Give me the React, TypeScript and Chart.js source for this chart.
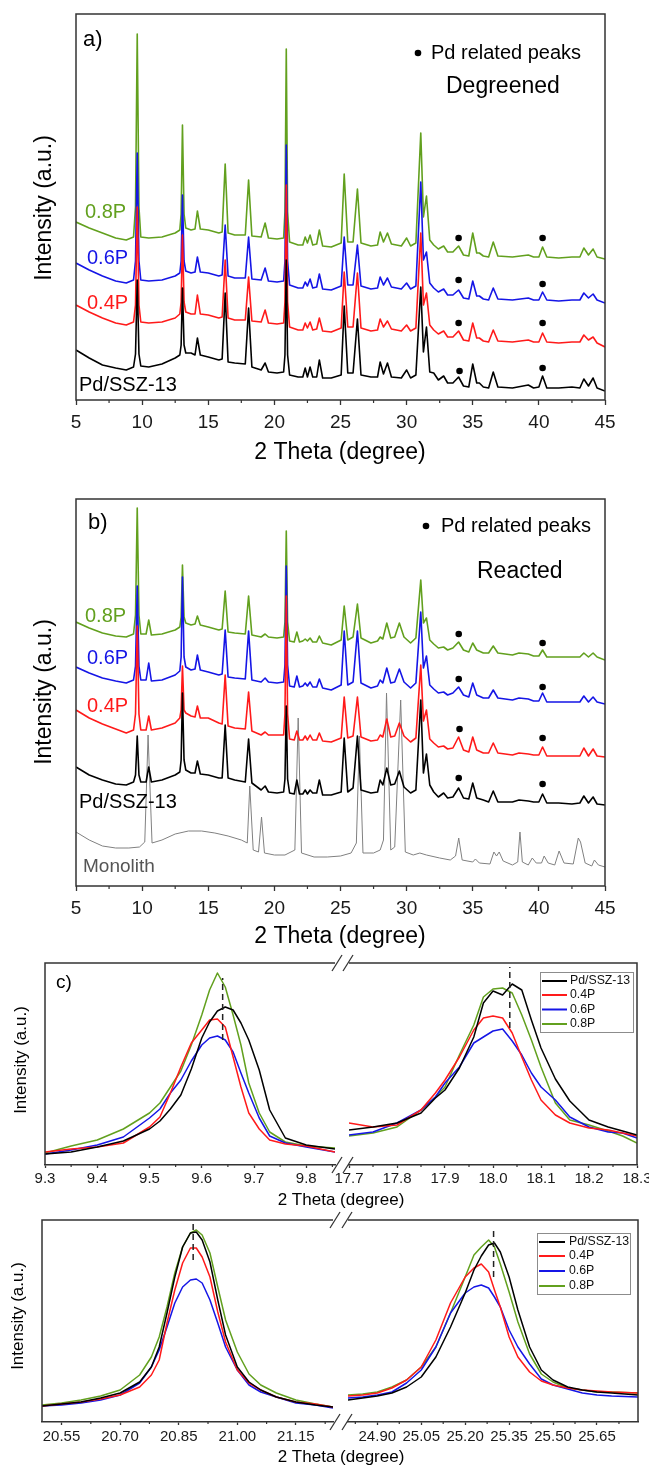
import React, { useEffect, useRef } from 'react';
import { Chart, registerables } from 'chart.js';

Chart.register(...registerables);

const FONT = '"Liberation Sans", Arial, Helvetica, sans-serif';
const FRAME = '#333333';
const TICK_COLOR = '#1a1a1a';

const seriesNames = ['Pd/SSZ-13', '0.4P', '0.6P', '0.8P'];
const seriesColors = ['#000000', '#ff1a1a', '#1515e6', '#62a01e'];
const monoColor = '#808080';

// ---------- panel a (Degreened) ----------
const xA = [5, 6, 7, 8, 8.8, 9.35, 9.5, 9.63, 9.76, 9.9, 10.5, 11.5,
  12.5, 12.85, 12.95, 13.05, 13.17, 13.3, 13.7, 14.0, 14.18, 14.4, 15.0, 15.8,
  16.05, 16.28, 16.5, 17.0, 17.8, 18.05, 18.3, 19.0, 19.3, 19.55,
  20.2, 20.7, 20.8, 20.9, 21.0, 21.15, 21.8, 22.15, 22.33, 22.5, 22.7, 22.9,
  23.2, 23.4, 23.65, 24.3, 25.05, 25.28, 25.55, 25.95, 26.28, 26.55,
  27.3, 27.8, 28.0, 28.25, 28.55, 28.85, 29.6, 30.0, 30.3, 30.7,
  31.07, 31.27, 31.5, 31.75, 32.05, 32.4, 32.8, 33.1, 33.5, 33.93,
  34.3, 34.7, 35.0, 35.3, 35.5, 35.8, 36.2, 36.55, 36.9, 38.0,
  39.2, 39.6, 40.0, 40.28, 40.6, 41.5, 42.5, 43.1, 43.4, 43.75,
  44.1, 44.4, 45];
const aGreen = [178, 172, 167, 162, 160, 163, 193, 366, 193, 163, 162, 163,
  167, 170, 186, 275, 186, 172, 170, 171, 189, 171, 170, 167,
  168, 236, 167, 165, 165, 220, 164, 163, 177, 162,
  161, 162, 188, 351, 188, 158, 155, 155, 163, 157, 165, 155,
  156, 170, 154, 153, 157, 226, 158, 158, 211, 157,
  154, 155, 168, 158, 167, 156, 154, 162, 154, 157,
  267, 183, 204, 160, 155, 151, 154, 148, 148, 154,
  145, 144, 167, 147, 147, 144, 143, 158, 144, 143,
  145, 143, 143, 153, 143, 142, 143, 143, 152, 145,
  151, 143, 141];
const aBlue = [137, 130, 124, 119, 117, 120, 139, 247, 139, 120, 119, 120,
  124, 127, 139, 205, 139, 129, 127, 128, 143, 128, 127, 124,
  125, 175, 124, 122, 122, 163, 121, 120, 132, 119,
  118, 119, 139, 255, 139, 115, 112, 112, 118, 114, 121, 112,
  113, 126, 111, 110, 114, 163, 115, 115, 155, 114,
  111, 112, 123, 115, 122, 113, 111, 117, 111, 114,
  218, 140, 148, 117, 112, 108, 111, 105, 105, 110,
  102, 101, 119, 104, 104, 101, 100, 112, 101, 100,
  102, 100, 100, 108, 100, 99, 100, 100, 107, 102,
  106, 100, 97];
const aRed = [95, 88, 82, 77, 75, 78, 95, 193, 95, 78, 77, 78,
  82, 86, 98, 165, 98, 88, 86, 86, 105, 86, 85, 82,
  83, 140, 82, 80, 80, 123, 79, 78, 90, 77,
  76, 77, 98, 215, 98, 73, 70, 70, 77, 72, 78, 70,
  71, 82, 69, 68, 72, 128, 73, 73, 127, 72,
  69, 70, 81, 73, 79, 71, 69, 75, 69, 72,
  167, 95, 107, 75, 70, 66, 69, 63, 63, 69,
  60, 59, 77, 62, 62, 59, 58, 70, 59, 58,
  60, 58, 58, 67, 58, 57, 58, 58, 65, 60,
  63, 57, 53];
const aBlack = [50, 42, 35, 32, 30, 33, 46, 120, 46, 34, 33, 36,
  42, 45, 55, 112, 55, 47, 47, 45, 62, 45, 43, 40,
  41, 107, 38, 37, 36, 92, 33, 30, 37, 28,
  27, 28, 45, 140, 45, 25, 23, 23, 32, 23, 33, 23,
  23, 40, 22, 22, 25, 94, 27, 27, 81, 25,
  23, 23, 38, 26, 37, 23, 22, 30, 22, 25,
  113, 48, 73, 28, 27, 20, 24, 17, 17, 23,
  14, 13, 36, 17, 17, 13, 12, 28, 13, 12,
  15, 12, 13, 24, 12, 12, 13, 12, 21, 14,
  22, 12, 9];
const dotsAX = [33.93, 40.28, 33.93, 40.28, 33.93, 40.28, 34.0, 40.28];
const dotsAY = [162, 162, 120, 116, 77, 77, 29, 32];

// ---------- panel b (Reacted) ----------
const xB = [5, 6, 7, 8, 8.8, 9.35, 9.5, 9.63, 9.76, 9.9, 10.3, 10.5,
  10.7, 11.5, 12.5, 12.85, 12.95, 13.05, 13.17, 13.3, 13.7, 14.0, 14.18, 14.4,
  15.0, 15.8, 16.05, 16.28, 16.5, 17.0, 17.8, 18.05, 18.3, 19.0,
  19.3, 19.55, 20.2, 20.7, 20.8, 20.9, 21.0, 21.15, 21.5, 21.7, 21.9, 22.15,
  22.33, 22.5, 22.7, 22.9, 23.2, 23.4, 23.65, 24.3, 25.05, 25.28,
  25.55, 25.95, 26.28, 26.55, 27.3, 27.8, 28.0, 28.2, 28.5, 28.8,
  29.1, 29.45, 29.8, 30.3, 30.7, 31.07, 31.27, 31.5, 31.75, 32.05,
  32.4, 32.8, 33.1, 33.5, 33.93, 34.3, 34.7, 35.0, 35.3, 35.8,
  36.2, 36.55, 36.9, 38.0, 38.5, 39.2, 39.6, 40.0, 40.28, 40.6,
  41.5, 42.5, 43.1, 43.4, 43.75, 44.1, 44.4, 45];
const bGreen = [264, 258, 253, 250, 249, 252, 271, 378, 271, 252, 252, 266,
  251, 252, 256, 259, 269, 321, 269, 263, 261, 262, 270, 261,
  259, 256, 257, 295, 254, 253, 252, 290, 251, 249,
  252, 249, 248, 249, 264, 355, 264, 245, 244, 254, 244, 245,
  247, 245, 248, 244, 244, 250, 243, 241, 246, 280,
  246, 249, 282, 248, 243, 245, 249, 247, 263, 248,
  249, 263, 249, 243, 248, 306, 263, 268, 246, 242,
  238, 239, 236, 238, 244, 236, 234, 243, 236, 233,
  233, 240, 233, 231, 233, 232, 230, 230, 236, 229,
  229, 229, 229, 233, 229, 233, 229, 226];
const bBlue = [219, 213, 208, 205, 203, 206, 220, 300, 220, 206, 206, 223,
  205, 206, 211, 215, 229, 309, 229, 219, 216, 217, 231, 216,
  214, 211, 212, 256, 209, 208, 207, 255, 206, 204,
  208, 204, 203, 204, 221, 320, 221, 200, 199, 210, 199, 200,
  203, 200, 204, 199, 199, 207, 198, 196, 201, 255,
  201, 204, 255, 203, 198, 200, 206, 203, 218, 203,
  204, 217, 204, 198, 203, 274, 218, 230, 201, 197,
  193, 194, 191, 193, 199, 191, 189, 203, 191, 188,
  188, 196, 188, 186, 188, 187, 185, 185, 193, 184,
  184, 184, 184, 190, 184, 189, 184, 182];
const bRed = [176, 168, 162, 157, 153, 156, 172, 260, 172, 156, 156, 170,
  156, 158, 163, 168, 176, 220, 176, 173, 170, 169, 180, 168,
  168, 163, 162, 211, 160, 158, 157, 194, 155, 151,
  154, 151, 151, 151, 172, 290, 172, 147, 146, 155, 146, 146,
  150, 146, 151, 146, 146, 153, 145, 144, 148, 189,
  148, 150, 189, 149, 145, 146, 151, 149, 167, 149,
  150, 163, 150, 144, 148, 221, 165, 176, 147, 143,
  139, 140, 137, 138, 149, 136, 134, 149, 136, 133,
  133, 143, 133, 131, 133, 132, 131, 131, 139, 130,
  130, 130, 130, 138, 130, 137, 130, 129];
const bBlack = [119, 111, 106, 102, 101, 104, 111, 150, 111, 104, 104, 119,
  104, 106, 111, 114, 126, 193, 126, 116, 113, 113, 125, 112,
  111, 108, 108, 161, 108, 106, 104, 147, 103, 96,
  100, 94, 93, 94, 107, 180, 107, 93, 92, 106, 92, 92,
  96, 92, 96, 93, 93, 106, 91, 91, 94, 148,
  94, 98, 150, 96, 93, 94, 106, 101, 118, 101,
  102, 115, 99, 93, 96, 186, 113, 132, 101, 94,
  89, 93, 88, 89, 98, 88, 87, 103, 88, 86,
  84, 95, 84, 84, 86, 85, 84, 84, 92, 83,
  83, 82, 83, 90, 83, 89, 82, 81];
const xMono = [5, 6, 7, 8, 9, 9.8, 10.2, 10.45, 10.75, 11.5,
  12.5, 13.5, 14.5, 15.5, 16.5, 17.5, 17.95, 18.14, 18.4, 18.8,
  19.03, 19.25, 20.0, 20.8, 21.55, 21.8, 22.05, 23.0, 24.0, 25.0,
  25.8, 26.2, 26.43, 26.7, 27.5, 28.0, 28.25, 28.48, 28.8, 29.1,
  29.55, 29.9, 30.5, 31.0, 31.5, 32.5, 33.3, 33.7, 33.94, 34.2,
  35.0, 35.2, 35.5, 36.3, 36.6, 36.8, 37.0, 37.3, 38.0, 38.4,
  38.57, 38.75, 39.2, 39.5, 39.8, 40.2, 40.4, 40.7, 41.2, 41.53,
  41.9, 42.6, 42.98, 43.15, 43.5, 44.0, 44.2, 44.5, 45];
const yMono = [54, 46, 40, 38, 38, 39, 44, 151, 43, 46,
  52, 55, 55, 53, 50, 46, 43, 100, 36, 34,
  69, 33, 31, 31, 36, 168, 33, 29, 29, 30,
  33, 43, 150, 33, 33, 36, 46, 193, 36, 39,
  186, 34, 31, 33, 31, 28, 26, 30, 48, 26,
  24, 27, 23, 22, 34, 30, 34, 25, 21, 24,
  54, 24, 21, 28, 23, 23, 30, 23, 21, 35,
  23, 22, 48, 44, 23, 20, 26, 21, 19];
const dotsBX = [33.94, 40.28, 33.94, 40.28, 34.0, 40.28, 33.94, 40.28];
const dotsBY = [252, 243, 207, 199, 157, 148, 108, 102];

const ticksAB = [5, 10, 15, 20, 25, 30, 35, 40, 45];
const minorAB = [7.5, 12.5, 17.5, 22.5, 27.5, 32.5, 37.5, 42.5];

// ---------- panel c, top row ----------
const xC1L = [9.3, 9.35, 9.4, 9.45, 9.5, 9.52, 9.54, 9.56, 9.58, 9.6, 9.615, 9.63, 9.645, 9.66, 9.675, 9.69, 9.71, 9.73, 9.76, 9.8, 9.855];
const c1LBlack = [11, 13, 18, 24, 36, 44, 56, 70, 96, 127, 143, 154, 158, 155, 142, 125, 95, 55, 27, 20, 16];
const c1LRed = [13, 16, 18, 22, 38, 48, 72, 98, 122, 135, 145, 146, 138, 108, 78, 52, 36, 25, 21, 19, 13];
const c1LBlue = [11, 15, 20, 28, 47, 56, 72, 85, 104, 120, 127, 129, 125, 113, 92, 72, 47, 29, 22, 18, 13];
const c1LGreen = [12, 19, 25, 36, 52, 62, 78, 94, 120, 150, 175, 192, 178, 150, 120, 82, 52, 33, 23, 19, 17];
const xC1R = [17.7, 17.75, 17.8, 17.85, 17.88, 17.9, 17.93, 17.96, 17.98, 18.0, 18.02, 18.04, 18.06, 18.08, 18.1, 18.13, 18.16, 18.2, 18.24, 18.27, 18.3];
const c1RBlack = [35, 38, 42, 52, 67, 75, 97, 128, 162, 174, 170, 181, 175, 145, 117, 86, 64, 45, 38, 34, 30];
const c1RRed = [42, 38, 40, 55, 72, 85, 108, 135, 147, 149, 147, 132, 108, 85, 65, 50, 42, 37, 35, 32, 29];
const c1RBlue = [30, 33, 42, 55, 68, 82, 98, 122, 128, 134, 136, 124, 110, 92, 78, 65, 48, 38, 33, 32, 27];
const c1RGreen = [29, 32, 38, 55, 68, 78, 110, 140, 168, 176, 177, 172, 150, 125, 98, 62, 45, 40, 34, 29, 22];
const ticksC1L = [9.3, 9.4, 9.5, 9.6, 9.7, 9.8];
const ticksC1R = [17.7, 17.8, 17.9, 18.0, 18.1, 18.2, 18.3];
const minorC1L = [9.35, 9.45, 9.55, 9.65, 9.75, 9.85];
const minorC1R = [17.75, 17.85, 17.95, 18.05, 18.15, 18.25];
const markC1X = [9.64, 18.035];
const markC1Axis = ['xL', 'xR'];
const markC1Lo = [125, 137];
const markC1Hi = [187, 198];

// ---------- panel c, bottom row ----------
const xC2L = [20.5, 20.55, 20.6, 20.65, 20.7, 20.75, 20.78, 20.8, 20.82, 20.84, 20.86, 20.88, 20.895, 20.91, 20.93, 20.95, 20.97, 21.0, 21.03, 21.06, 21.1, 21.15, 21.2, 21.245];
const c2LBlack = [16, 18, 20, 24, 29, 40, 55, 75, 109, 145, 175, 189, 190, 182, 160, 122, 87, 55, 40, 32, 25, 20, 17, 15];
const c2LRed = [16, 18, 20, 23, 27, 35, 47, 62, 99, 132, 159, 174, 174, 165, 145, 110, 80, 52, 39, 32, 25, 20, 18, 15];
const c2LBlue = [16, 17, 19, 22, 27, 39, 55, 72, 95, 119, 135, 142, 143, 139, 122, 99, 75, 52, 37, 30, 25, 19, 17, 14];
const c2LGreen = [17, 19, 22, 26, 32, 47, 65, 85, 115, 149, 175, 189, 192, 187, 169, 135, 102, 70, 48, 37, 29, 22, 18, 15];
const xC2R = [24.8, 24.85, 24.9, 24.95, 25.0, 25.05, 25.1, 25.15, 25.2, 25.23, 25.255, 25.28, 25.3, 25.32, 25.35, 25.38, 25.42, 25.46, 25.5, 25.55, 25.6, 25.65, 25.7, 25.79];
const c2RBlack = [22, 24, 26, 29, 35, 45, 65, 95, 129, 152, 166, 177, 179, 170, 145, 112, 75, 52, 42, 35, 32, 30, 29, 27];
const c2RRed = [26, 27, 29, 34, 42, 55, 82, 119, 145, 154, 158, 150, 132, 115, 85, 65, 50, 41, 37, 34, 32, 31, 30, 29];
const c2RBlue = [24, 25, 27, 30, 39, 52, 75, 109, 129, 135, 137, 134, 125, 115, 92, 75, 58, 43, 37, 33, 29, 27, 26, 25];
const c2RGreen = [27, 28, 30, 35, 42, 55, 75, 109, 145, 167, 175, 182, 175, 158, 130, 100, 68, 48, 40, 34, 32, 30, 30, 29];
const ticksC2L = [20.55, 20.7, 20.85, 21.0, 21.15];
const ticksC2R = [24.9, 25.05, 25.2, 25.35, 25.5, 25.65];
const minorC2L = [20.625, 20.775, 20.925, 21.075, 21.225];
const minorC2R = [24.825, 24.975, 25.125, 25.275, 25.425, 25.575, 25.725];
const markC2X = [20.887, 25.297];
const markC2Axis = ['xL', 'xR'];
const markC2Lo = [162, 145];
const markC2Hi = [199, 193];

// ---------- helpers ----------
type Txt = { t: string; x: number; y: number; size: number; color?: string; align?: CanvasTextAlign; rot?: boolean; dot?: boolean };

function overlay(items: Txt[]) {
  return {
    id: 'overlayText',
    afterDraw(chart: any) {
      const ctx = chart.ctx as CanvasRenderingContext2D;
      for (const it of items) {
        ctx.save();
        ctx.translate(it.x, it.y);
        if (it.rot) ctx.rotate(-Math.PI / 2);
        ctx.fillStyle = it.color || '#000';
        if (it.dot) {
          ctx.beginPath();
          ctx.arc(0, 0, it.size, 0, Math.PI * 2);
          ctx.fill();
        } else {
          ctx.font = `${it.size}px ${FONT}`;
          ctx.textAlign = it.align || 'left';
          ctx.textBaseline = 'middle';
          ctx.fillText(it.t, 0, 0);
        }
        ctx.restore();
      }
    },
  };
}

function minor(list: { id: string; values: number[] }[], len: number) {
  return {
    id: 'minorTicks',
    afterDraw(chart: any) {
      const ctx = chart.ctx as CanvasRenderingContext2D;
      ctx.save();
      ctx.strokeStyle = FRAME;
      ctx.lineWidth = 1.2;
      for (const m of list) {
        const s = chart.scales[m.id];
        if (!s) continue;
        for (const v of m.values) {
          const px = s.getPixelForValue(v);
          ctx.beginPath();
          ctx.moveTo(px, s.top);
          ctx.lineTo(px, s.top + len);
          ctx.stroke();
        }
      }
      ctx.restore();
    },
  };
}

const boxFrame = {
  id: 'boxFrame',
  afterDraw(chart: any) {
    const { left, top, right, bottom } = chart.chartArea;
    const ctx = chart.ctx as CanvasRenderingContext2D;
    ctx.save();
    ctx.strokeStyle = FRAME;
    ctx.lineWidth = 1.5;
    ctx.strokeRect(left, top, right - left, bottom - top);
    ctx.restore();
  },
};

const brokenFrame = {
  id: 'brokenFrame',
  afterDraw(chart: any) {
    const { left, top, right, bottom } = chart.chartArea;
    const L = chart.scales.xL;
    const R = chart.scales.xR;
    const ctx = chart.ctx as CanvasRenderingContext2D;
    ctx.save();
    ctx.strokeStyle = FRAME;
    ctx.lineWidth = 1.5;
    ctx.beginPath();
    ctx.moveTo(left, bottom);
    ctx.lineTo(left, top);
    ctx.lineTo(L.right, top);
    ctx.moveTo(R.left, top);
    ctx.lineTo(right, top);
    ctx.lineTo(right, bottom);
    ctx.stroke();
    ctx.lineWidth = 1.3;
    for (const y of [top, bottom]) {
      for (const cx of [L.right + 2, R.left - 1]) {
        ctx.beginPath();
        ctx.moveTo(cx - 5, y + 8);
        ctx.lineTo(cx + 5, y - 8);
        ctx.stroke();
      }
    }
    ctx.restore();
  },
};

function legendBox(b: { x0: number; y0: number; x1: number; y1: number; rows: number[]; lx0: number; lx1: number; tx: number; size: number }) {
  return {
    id: 'cLegend',
    afterDraw(chart: any) {
      const ctx = chart.ctx as CanvasRenderingContext2D;
      ctx.save();
      ctx.fillStyle = '#ffffff';
      ctx.fillRect(b.x0, b.y0, b.x1 - b.x0, b.y1 - b.y0);
      ctx.strokeStyle = '#8c8c8c';
      ctx.lineWidth = 1;
      ctx.strokeRect(b.x0 + 0.5, b.y0 + 0.5, b.x1 - b.x0, b.y1 - b.y0);
      seriesNames.forEach((name, i) => {
        ctx.strokeStyle = seriesColors[i];
        ctx.lineWidth = 2;
        ctx.beginPath();
        ctx.moveTo(b.lx0, b.rows[i]);
        ctx.lineTo(b.lx1, b.rows[i]);
        ctx.stroke();
        ctx.fillStyle = '#111';
        ctx.font = `${b.size}px ${FONT}`;
        ctx.textAlign = 'left';
        ctx.textBaseline = 'middle';
        ctx.fillText(name, b.tx, b.rows[i]);
      });
      ctx.restore();
    },
  };
}

function lineDs(xs: number[], ys: number[], color: string, width: number, order: number, xAxisID = 'x', dash: number[] = []) {
  return {
    type: 'line',
    data: xs.map((x, i) => ({ x, y: ys[i] })),
    borderColor: color,
    backgroundColor: color,
    borderWidth: width,
    pointRadius: 0,
    tension: 0,
    fill: false,
    order,
    xAxisID,
    yAxisID: 'y',
    borderJoinStyle: 'round',
    borderDash: dash,
  };
}

function dotDs(xs: number[], ys: number[]) {
  return {
    type: 'scatter',
    data: xs.map((x, i) => ({ x, y: ys[i] })),
    pointRadius: 3.3,
    pointBackgroundColor: '#000',
    pointBorderColor: '#000',
    pointBorderWidth: 0,
    showLine: false,
    order: 0,
    xAxisID: 'x',
    yAxisID: 'y',
  };
}

function xAxis(p: { min: number; max: number; ticks: number[]; dec: number; size: number; pad: number; tl: number; h: number; stack?: string; weight?: number; border?: boolean }) {
  return {
    type: 'linear',
    position: 'bottom',
    min: p.min,
    max: p.max,
    ...(p.stack ? { stack: p.stack, stackWeight: p.weight } : {}),
    afterBuildTicks: (s: any) => { s.ticks = p.ticks.map((v) => ({ value: v })); },
    afterFit: (s: any) => { s.height = p.h; s.paddingLeft = 0; s.paddingRight = 0; },
    ticks: {
      autoSkip: false, maxRotation: 0, minRotation: 0, padding: p.pad, color: TICK_COLOR,
      font: { family: FONT, size: p.size },
      callback: (v: any) => Number(v).toFixed(p.dec),
    },
    grid: { drawOnChartArea: false, drawTicks: true, tickLength: p.tl, tickColor: FRAME, tickWidth: 1.3 },
    border: { display: !!p.border, color: FRAME, width: 1.5 },
  };
}

function gapAxis(h: number, w: number) {
  return {
    type: 'linear', position: 'bottom', stack: 'x', stackWeight: w, min: 0, max: 1,
    ticks: { display: false }, grid: { display: false }, border: { display: false },
    afterFit: (s: any) => { s.height = h; s.paddingLeft = 0; s.paddingRight = 0; },
  };
}

const baseOpts = { responsive: false, animation: false, events: [] as string[] };
const noPlugins = { legend: { display: false }, tooltip: { enabled: false } };
const LW = 1.6;

// ---------- configs ----------
const textsA: Txt[] = [
  { t: 'a)', x: 83, y: 40, size: 22 },
  { t: '', x: 418, y: 53, size: 3.3, dot: true },
  { t: 'Pd related peaks', x: 431, y: 53, size: 20 },
  { t: 'Degreened', x: 446, y: 87, size: 23 },
  { t: seriesNames[3], x: 85, y: 212, size: 20, color: seriesColors[3] },
  { t: seriesNames[2], x: 87, y: 258, size: 20, color: seriesColors[2] },
  { t: seriesNames[1], x: 87, y: 303, size: 20, color: seriesColors[1] },
  { t: seriesNames[0], x: 79, y: 385, size: 20 },
  { t: '2 Theta (degree)', x: 340, y: 453, size: 23, align: 'center' },
  { t: 'Intensity (a.u.)', x: 45, y: 208, size: 23, align: 'center', rot: true },
];

function buildA() {
  return {
    type: 'line',
    data: {
      datasets: [
        dotDs(dotsAX, dotsAY),
        lineDs(xA, aBlack, seriesColors[0], LW, 1),
        lineDs(xA, aRed, seriesColors[1], LW, 2),
        lineDs(xA, aBlue, seriesColors[2], LW, 3),
        lineDs(xA, aGreen, seriesColors[3], LW, 4),
      ],
    },
    options: {
      ...baseOpts,
      layout: { padding: { left: 76, right: 44, top: 14, bottom: 0 } },
      plugins: noPlugins,
      scales: {
        x: xAxis({ min: 5, max: 45, ticks: ticksAB, dec: 0, size: 19, pad: 6, tl: 5, h: 80 }),
        y: { type: 'linear', display: false, min: 0, max: 386 },
      },
    },
    plugins: [boxFrame, minor([{ id: 'x', values: minorAB }], 3), overlay(textsA)],
  };
}

const textsB: Txt[] = [
  { t: 'b)', x: 88, y: 43, size: 22 },
  { t: '', x: 426, y: 46, size: 3.3, dot: true },
  { t: 'Pd related peaks', x: 441, y: 46, size: 20 },
  { t: 'Reacted', x: 477, y: 92, size: 23 },
  { t: seriesNames[3], x: 85, y: 136, size: 20, color: seriesColors[3] },
  { t: seriesNames[2], x: 87, y: 178, size: 20, color: seriesColors[2] },
  { t: seriesNames[1], x: 87, y: 226, size: 20, color: seriesColors[1] },
  { t: seriesNames[0], x: 79, y: 322, size: 20 },
  { t: 'Monolith', x: 83, y: 387, size: 19, color: '#555555' },
  { t: '2 Theta (degree)', x: 340, y: 457, size: 23, align: 'center' },
  { t: 'Intensity (a.u.)', x: 45, y: 212, size: 23, align: 'center', rot: true },
];

function buildB() {
  return {
    type: 'line',
    data: {
      datasets: [
        dotDs(dotsBX, dotsBY),
        lineDs(xB, bBlack, seriesColors[0], LW, 1),
        lineDs(xB, bRed, seriesColors[1], LW, 2),
        lineDs(xB, bBlue, seriesColors[2], LW, 3),
        lineDs(xB, bGreen, seriesColors[3], LW, 4),
        lineDs(xMono, yMono, monoColor, 1, 5),
      ],
    },
    options: {
      ...baseOpts,
      layout: { padding: { left: 76, right: 44, top: 19, bottom: 0 } },
      plugins: noPlugins,
      scales: {
        x: xAxis({ min: 5, max: 45, ticks: ticksAB, dec: 0, size: 19, pad: 6, tl: 5, h: 74 }),
        y: { type: 'linear', display: false, min: 0, max: 387 },
      },
    },
    plugins: [boxFrame, minor([{ id: 'x', values: minorAB }], 3), overlay(textsB)],
  };
}

const textsC1: Txt[] = [
  { t: 'c)', x: 56, y: 33, size: 19 },
  { t: '2 Theta (degree)', x: 341, y: 250, size: 17, align: 'center' },
  { t: 'Intensity (a.u.)', x: 21, y: 110, size: 17, align: 'center', rot: true },
];

function buildC1() {
  const ds: any[] = [];
  [c1LBlack, c1LRed, c1LBlue, c1LGreen].forEach((ys, i) => ds.push(lineDs(xC1L, ys, seriesColors[i], 1.5, i + 1, 'xL')));
  [c1RBlack, c1RRed, c1RBlue, c1RGreen].forEach((ys, i) => ds.push(lineDs(xC1R, ys, seriesColors[i], 1.5, i + 1, 'xR')));
  markC1X.forEach((x, j) => ds.push(lineDs([x, x], [markC1Lo[j], markC1Hi[j]], '#222222', 1.5, 0, markC1Axis[j], [6, 4])));
  return {
    type: 'line',
    data: { datasets: ds },
    options: {
      ...baseOpts,
      layout: { padding: { left: 45, right: 12, top: 13, bottom: 0 } },
      plugins: noPlugins,
      scales: {
        xL: xAxis({ min: 9.3, max: 9.855, ticks: ticksC1L, dec: 1, size: 15, pad: 2, tl: 3, h: 50, stack: 'x', weight: 290, border: true }),
        xG: gapAxis(50, 14),
        xR: xAxis({ min: 17.7, max: 18.3, ticks: ticksC1R, dec: 1, size: 15, pad: 2, tl: 3, h: 50, stack: 'x', weight: 288, border: true }),
        y: { type: 'linear', display: false, min: 0, max: 202 },
      },
    },
    plugins: [
      brokenFrame,
      minor([{ id: 'xL', values: minorC1L }, { id: 'xR', values: minorC1R }], 2),
      legendBox({ x0: 540, y0: 22, x1: 633, y1: 82, rows: [31, 45, 59.5, 74], lx0: 542, lx1: 567, tx: 570, size: 12.3 }),
      overlay(textsC1),
    ],
  };
}

const textsC2: Txt[] = [
  { t: '2 Theta (degree)', x: 341, y: 252, size: 17, align: 'center' },
  { t: 'Intensity (a.u.)', x: 18, y: 111, size: 17, align: 'center', rot: true },
];

function buildC2() {
  const ds: any[] = [];
  [c2LBlack, c2LRed, c2LBlue, c2LGreen].forEach((ys, i) => ds.push(lineDs(xC2L, ys, seriesColors[i], 1.5, i + 1, 'xL')));
  [c2RBlack, c2RRed, c2RBlue, c2RGreen].forEach((ys, i) => ds.push(lineDs(xC2R, ys, seriesColors[i], 1.5, i + 1, 'xR')));
  markC2X.forEach((x, j) => ds.push(lineDs([x, x], [markC2Lo[j], markC2Hi[j]], '#222222', 1.5, 0, markC2Axis[j], [6, 4])));
  return {
    type: 'line',
    data: { datasets: ds },
    options: {
      ...baseOpts,
      layout: { padding: { left: 42, right: 11, top: 15, bottom: 0 } },
      plugins: noPlugins,
      scales: {
        xL: xAxis({ min: 20.5, max: 21.245, ticks: ticksC2L, dec: 2, size: 15, pad: 3, tl: 3, h: 43, stack: 'x', weight: 291, border: true }),
        xG: gapAxis(43, 15),
        xR: xAxis({ min: 24.8, max: 25.79, ticks: ticksC2R, dec: 2, size: 15, pad: 3, tl: 3, h: 43, stack: 'x', weight: 290, border: true }),
        y: { type: 'linear', display: false, min: 0, max: 202 },
      },
    },
    plugins: [
      brokenFrame,
      minor([{ id: 'xL', values: minorC2L }, { id: 'xR', values: minorC2R }], 2),
      legendBox({ x0: 537, y0: 28, x1: 630, y1: 89, rows: [37, 51, 66, 81], lx0: 539, lx1: 565, tx: 569, size: 12.3 }),
      overlay(textsC2),
    ],
  };
}

function ChartCanvas({ top, height, build }: { top: number; height: number; build: () => any }) {
  const ref = useRef<HTMLCanvasElement>(null);
  useEffect(() => {
    const chart = new Chart(ref.current as HTMLCanvasElement, build());
    return () => chart.destroy();
  }, [build]);
  return (
    <canvas
      ref={ref}
      width={649}
      height={height}
      style={{ position: 'absolute', left: 0, top, width: 649, height, display: 'block' }}
    />
  );
}

export default function App() {
  return (
    <div style={{ position: 'absolute', left: 0, top: 0, width: 649, height: 1465, overflow: 'hidden', background: '#ffffff' }}>
      <ChartCanvas top={0} height={480} build={buildA} />
      <ChartCanvas top={480} height={480} build={buildB} />
      <ChartCanvas top={950} height={265} build={buildC1} />
      <ChartCanvas top={1205} height={260} build={buildC2} />
    </div>
  );
}
